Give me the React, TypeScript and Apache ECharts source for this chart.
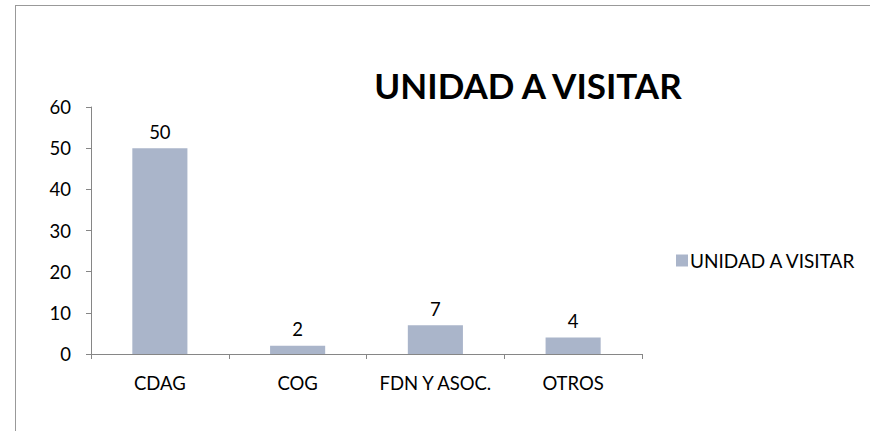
import React, { useEffect, useRef } from "react";
import * as echarts from "echarts";

const categories = ["CDAG", "COG", "FDN Y ASOC.", "OTROS"];
const values = [50, 2, 7, 4];
const seriesName = "UNIDAD A VISITAR";
const titleText = "UNIDAD A VISITAR";

export default function App() {
  const ref = useRef<HTMLDivElement>(null);
  useEffect(() => {
    document.body.style.margin = "0";
    const chart = echarts.init(ref.current!, null, { renderer: "svg" });
    const font = "Lato, 'Open Sans', sans-serif";
    chart.setOption({
      animation: false,
      backgroundColor: "#ffffff",
      textStyle: { fontFamily: font },
      title: {
        text: titleText,
        left: 523,
        top: 62,
        textAlign: "center",
        textStyle: { fontSize: 35, fontWeight: "bold", color: "#000", fontFamily: font },
      },
      legend: {
        left: 671,
        top: 246,
        orient: "vertical",
        itemWidth: 12,
        itemHeight: 12,
        itemGap: 6,
        icon: "rect",
        textStyle: { fontSize: 19, color: "#000", fontFamily: font, padding: [0, 0, 0, -3] },
        data: [seriesName],
      },
      grid: { left: 91, right: 229, top: 107, bottom: 77, containLabel: false },
      xAxis: {
        type: "category",
        data: categories,
        axisLine: { lineStyle: { color: "#868686", width: 1 } },
        axisTick: { show: true, length: 5, interval: 0, alignWithLabel: false, lineStyle: { color: "#868686" } },
        axisLabel: { fontSize: 18.5, interval: 0, color: "#000", margin: 19, fontFamily: font },
        splitLine: { show: false },
      },
      yAxis: {
        type: "value",
        min: 0,
        max: 60,
        interval: 10,
        axisLine: { show: true, lineStyle: { color: "#868686", width: 1 } },
        axisTick: { show: true, length: 5, lineStyle: { color: "#868686" } },
        axisLabel: { fontSize: 18.5, color: "#000", margin: 20, fontFamily: font },
        splitLine: { show: false },
      },
      series: [
        {
          name: seriesName,
          type: "bar",
          data: values,
          barWidth: "40%",
          itemStyle: { color: "#AAB5CA" },
          label: {
            show: true,
            position: "top",
            distance: 7,
            fontSize: 18.5,
            color: "#000",
            fontFamily: font,
          },
        },
      ],
      graphic: [
        { type: "line", shape: { x1: 15, y1: 5.5, x2: 870, y2: 5.5 }, style: { stroke: "#999", lineWidth: 1 } },
        { type: "line", shape: { x1: 15.5, y1: 5, x2: 15.5, y2: 431 }, style: { stroke: "#999", lineWidth: 1 } },
      ],
    });
    return () => chart.dispose();
  }, []);
  return <div ref={ref} style={{ width: 871, height: 431 }} />;
}
